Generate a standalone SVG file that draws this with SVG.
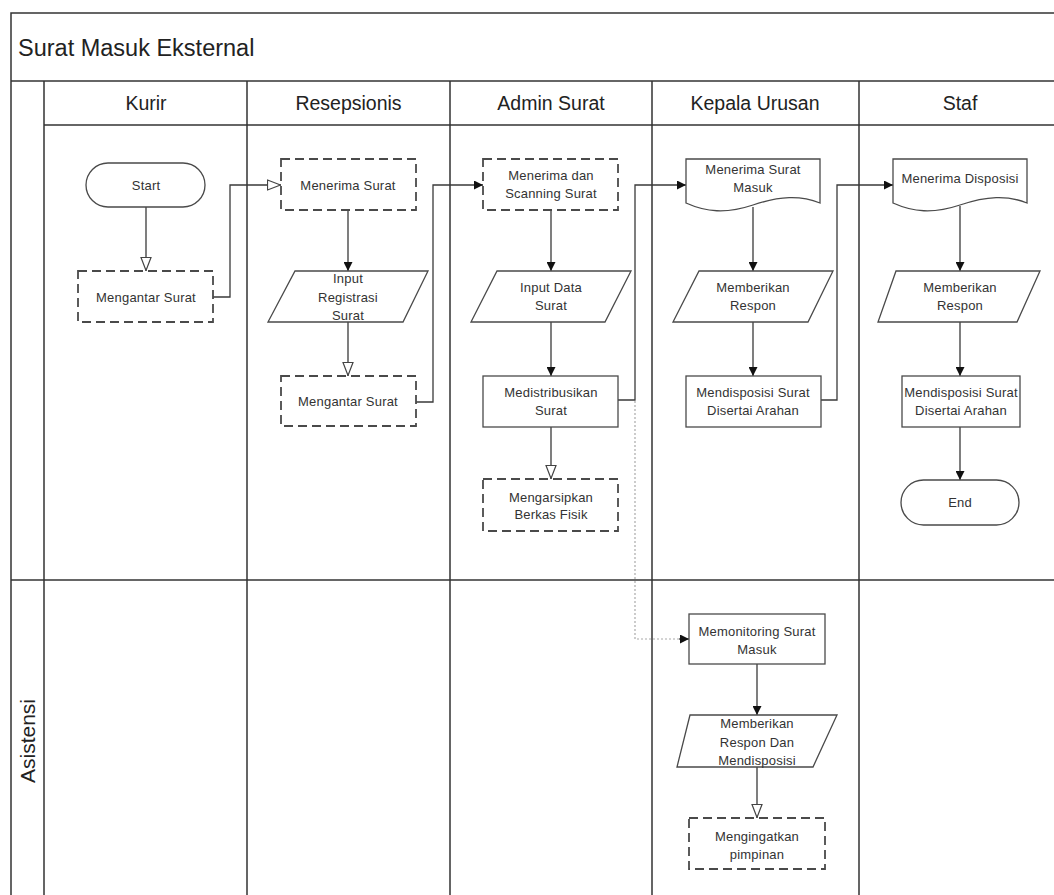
<svg xmlns="http://www.w3.org/2000/svg" width="1054" height="895" viewBox="0 0 1054 895">
  <defs>
    <style>
      .frame { fill: none; stroke: #333; stroke-width: 1.5; }
      .shape { fill: #fff; stroke: #4a4a4a; stroke-width: 1.3; }
      .dash { fill: #fff; stroke: #4a4a4a; stroke-width: 1.8; stroke-dasharray: 9 5; }
      .conn { fill: none; stroke: #3a3a3a; stroke-width: 1.3; }
      .dotted { fill: none; stroke: #aaa; stroke-width: 1.2; stroke-dasharray: 2 2; }
      .txt { font-family: "Liberation Sans", Arial, sans-serif; font-size: 13px; fill: #333; text-anchor: middle; letter-spacing: 0.2px; }
      .head { font-family: "Liberation Sans", Arial, sans-serif; font-size: 19.5px; fill: #222; text-anchor: middle; }
      .side { font-family: "Liberation Sans", Arial, sans-serif; font-size: 21px; fill: #222; text-anchor: middle; }
      .title { font-family: "Liberation Sans", Arial, sans-serif; font-size: 23.5px; fill: #222; }
    </style>
    <marker id="arrowFill" viewBox="0 0 10 10" refX="10" refY="5" markerWidth="10" markerHeight="9" markerUnits="userSpaceOnUse" orient="auto">
      <path d="M0,0 L10,5 L0,10 Z" fill="#111"/>
    </marker>
    <marker id="arrowOpen" viewBox="0 0 15 12" refX="14.5" refY="6" markerWidth="15" markerHeight="12" markerUnits="userSpaceOnUse" orient="auto">
      <path d="M1,1 L14,6 L1,11 Z" fill="#fff" stroke="#444" stroke-width="1.2"/>
    </marker>
  </defs>

  <rect width="1054" height="895" fill="#fff"/>

  <!-- swimlane frame -->
  <g id="lanes">
    <path class="frame" d="M1054,13 H11 V895"/>
    <path class="frame" d="M11,81 H1054"/>
    <path class="frame" d="M44,125 H1054"/>
    <path class="frame" d="M11,580 H1054"/>
    <path class="frame" d="M44,81 V895 M247,81 V895 M450,81 V895 M652,81 V895 M859,81 V895"/>
    <text class="title" x="18" y="56">Surat Masuk Eksternal</text>
    <text class="head" x="146" y="110">Kurir</text>
    <text class="head" x="348.5" y="110">Resepsionis</text>
    <text class="head" x="551" y="110">Admin Surat</text>
    <text class="head" x="755" y="110">Kepala Urusan</text>
    <text class="head" x="960" y="110">Staf</text>
    <text class="side" transform="translate(35,741) rotate(-90)" x="0" y="0">Asistensi</text>
  </g>

  <!-- connectors -->
  <g id="connectors">
    <path class="conn" d="M146,207 V271" marker-end="url(#arrowOpen)"/>
    <path class="conn" d="M213,297 H230 V185 H281" marker-end="url(#arrowOpen)"/>
    <path class="conn" d="M348,210 V271" marker-end="url(#arrowFill)"/>
    <path class="conn" d="M348,322 V376" marker-end="url(#arrowOpen)"/>
    <path class="conn" d="M416,402 H433 V185 H483" marker-end="url(#arrowFill)"/>
    <path class="conn" d="M551,210 V271" marker-end="url(#arrowFill)"/>
    <path class="conn" d="M551,322 V376" marker-end="url(#arrowFill)"/>
    <path class="conn" d="M551,427 V479" marker-end="url(#arrowOpen)"/>
    <path class="conn" d="M618,400 H635 V185 H686" marker-end="url(#arrowFill)"/>
    <path class="dotted" d="M635,401 V639 H680"/>
    <path class="conn" d="M679,639 H689" stroke="none" marker-end="url(#arrowFill)"/>
    <path class="conn" d="M753,207 V271" marker-end="url(#arrowFill)"/>
    <path class="conn" d="M753,322 V376" marker-end="url(#arrowFill)"/>
    <path class="conn" d="M821,400 H837 V185 H893" marker-end="url(#arrowFill)"/>
    <path class="conn" d="M960,206 V271" marker-end="url(#arrowFill)"/>
    <path class="conn" d="M960,322 V376" marker-end="url(#arrowFill)"/>
    <path class="conn" d="M960,427 V480" marker-end="url(#arrowFill)"/>
    <path class="conn" d="M757,664 V715" marker-end="url(#arrowFill)"/>
    <path class="conn" d="M757,767 V818" marker-end="url(#arrowOpen)"/>
  </g>

  <!-- Kurir -->
  <g id="start">
    <rect class="shape" x="86" y="163" width="119" height="44" rx="22"/>
    <text class="txt" x="146" y="189.5">Start</text>
  </g>
  <g id="kurir-mengantar">
    <rect class="dash" x="78" y="271" width="135" height="51"/>
    <text class="txt" x="146" y="301.5">Mengantar Surat</text>
  </g>

  <!-- Resepsionis -->
  <g id="res-menerima">
    <rect class="dash" x="281" y="159" width="135" height="51"/>
    <text class="txt" x="348" y="189.5">Menerima Surat</text>
  </g>
  <g id="res-input">
    <path class="shape" d="M295,271 H428 L403,322 H268 Z"/>
    <text class="txt" x="348" y="283">Input</text>
    <text class="txt" x="348" y="301.5">Registrasi</text>
    <text class="txt" x="348" y="319.5">Surat</text>
  </g>
  <g id="res-mengantar">
    <rect class="dash" x="281" y="376" width="135" height="50"/>
    <text class="txt" x="348" y="406">Mengantar Surat</text>
  </g>

  <!-- Admin Surat -->
  <g id="adm-scanning">
    <rect class="dash" x="483" y="159" width="135" height="51"/>
    <text class="txt" x="551" y="179.5">Menerima dan</text>
    <text class="txt" x="551" y="197.5">Scanning Surat</text>
  </g>
  <g id="adm-input">
    <path class="shape" d="M497,271 H631 L605,322 H471 Z"/>
    <text class="txt" x="551" y="291.5">Input Data</text>
    <text class="txt" x="551" y="309.5">Surat</text>
  </g>
  <g id="adm-distribusi">
    <rect class="shape" x="483" y="376" width="135" height="51"/>
    <text class="txt" x="551" y="396.5">Medistribusikan</text>
    <text class="txt" x="551" y="414.5">Surat</text>
  </g>
  <g id="adm-arsip">
    <rect class="dash" x="483" y="479" width="135" height="52"/>
    <text class="txt" x="551" y="501.5">Mengarsipkan</text>
    <text class="txt" x="551" y="518.5">Berkas Fisik</text>
  </g>

  <!-- Kepala Urusan -->
  <g id="kep-menerima">
    <path class="shape" d="M686,159 H820 V203 C800,195 780,196 753,205 C726,214 706,212 686,203 Z"/>
    <text class="txt" x="753" y="173.5">Menerima Surat</text>
    <text class="txt" x="753" y="191.5">Masuk</text>
  </g>
  <g id="kep-respon">
    <path class="shape" d="M699,271 H833 L808,322 H673 Z"/>
    <text class="txt" x="753" y="291.5">Memberikan</text>
    <text class="txt" x="753" y="309.5">Respon</text>
  </g>
  <g id="kep-disposisi">
    <rect class="shape" x="686" y="376" width="135" height="51"/>
    <text class="txt" x="753" y="396.5">Mendisposisi Surat</text>
    <text class="txt" x="753" y="414.5">Disertai Arahan</text>
  </g>

  <!-- Staf -->
  <g id="staf-menerima">
    <path class="shape" d="M893,159 H1027 V203 C1007,195 987,196 960,205 C933,214 913,212 893,203 Z"/>
    <text class="txt" x="960" y="182.5">Menerima Disposisi</text>
  </g>
  <g id="staf-respon">
    <path class="shape" d="M896,271 H1040 L1017,322 H878 Z"/>
    <text class="txt" x="960" y="292">Memberikan</text>
    <text class="txt" x="960" y="309.5">Respon</text>
  </g>
  <g id="staf-disposisi">
    <rect class="shape" x="902" y="376" width="118" height="51"/>
    <text class="txt" x="961" y="396.5">Mendisposisi Surat</text>
    <text class="txt" x="961" y="414.5">Disertai Arahan</text>
  </g>
  <g id="end">
    <rect class="shape" x="901" y="480" width="118" height="45" rx="22.5"/>
    <text class="txt" x="960" y="506.5">End</text>
  </g>

  <!-- Asistensi -->
  <g id="asi-monitoring">
    <rect class="shape" x="689" y="614" width="136" height="50"/>
    <text class="txt" x="757" y="635.5">Memonitoring Surat</text>
    <text class="txt" x="757" y="653.5">Masuk</text>
  </g>
  <g id="asi-respon">
    <path class="shape" d="M690,715 H837 L813,767 H677 Z"/>
    <text class="txt" x="757" y="727.5">Memberikan</text>
    <text class="txt" x="757" y="746.5">Respon Dan</text>
    <text class="txt" x="757" y="764.5">Mendisposisi</text>
  </g>
  <g id="asi-ingatkan">
    <rect class="dash" x="689" y="818" width="136" height="51"/>
    <text class="txt" x="757" y="840.5">Mengingatkan</text>
    <text class="txt" x="757" y="858.5">pimpinan</text>
  </g>
</svg>
